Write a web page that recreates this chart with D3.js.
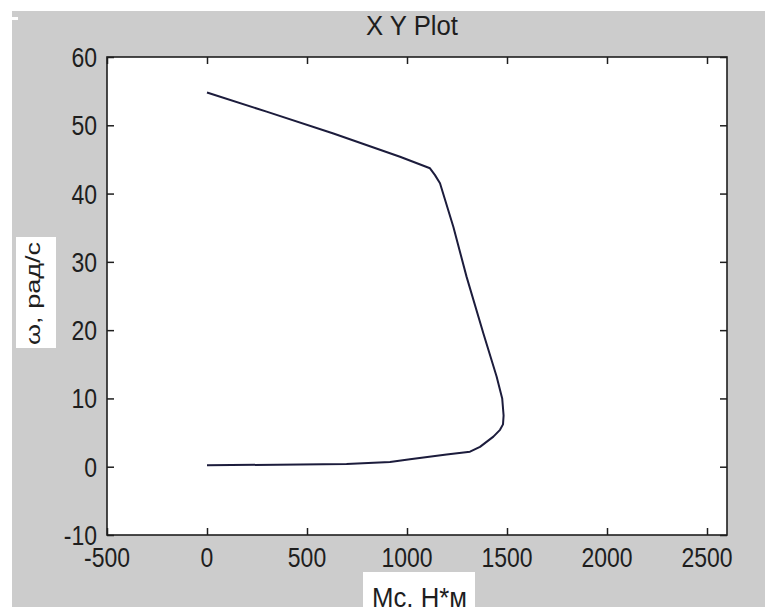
<!DOCTYPE html>
<html>
<head>
<meta charset="utf-8">
<script src="https://cdn.jsdelivr.net/npm/d3@7"></script>
<style>
  html, body { margin: 0; padding: 0; background: #ffffff; }
  svg { display: block; }
  text { font-family: "Liberation Sans", Arial, sans-serif; fill: #1e1e1e; }
</style>
</head>
<body>
<svg id="chart" width="765" height="607"></svg>
<script>
// ---- data ----
const titleText = "X Y Plot";
const xLabelText = "Mc, H*м";
const yLabelText = "ω, рад/с";
const xTicks = [-500, 0, 500, 1000, 1500, 2000, 2500];
const yTicks = [-10, 0, 10, 20, 30, 40, 50, 60];
const xDomain = [-500, 2600];
const yDomain = [-10, 60];
const curveM = [0, 298, 632, 965, 1115, 1140, 1165, 1232, 1298, 1382, 1448, 1476, 1483, 1480, 1465, 1432, 1365, 1315, 1198, 1015, 915, 698, 0];
const curveW = [54.8, 52.0, 48.8, 45.4, 43.7, 42.7, 41.5, 35.1, 27.8, 19.5, 13.2, 10.0, 7.5, 6.2, 5.4, 4.4, 2.9, 2.2, 1.8, 1.1, 0.7, 0.4, 0.2];

// ---- layout ----
const svg = d3.select("#chart");
const W = 765, H = 607;
const plot = { left: 107, right: 727, top: 57, bottom: 535 };

// figure background (gray) with white strips at top/left
svg.append("rect").attr("x", 0).attr("y", 0).attr("width", W).attr("height", H).attr("fill", "#ffffff");
svg.append("rect").attr("x", 12).attr("y", 11).attr("width", W - 12).attr("height", H - 11).attr("fill", "#cccccc");
svg.append("rect").attr("x", 12).attr("y", 17).attr("width", 6).attr("height", 3).attr("fill", "#ffffff");

const x = d3.scaleLinear().domain(xDomain).range([plot.left, plot.right]);
const y = d3.scaleLinear().domain(yDomain).range([plot.bottom, plot.top]);

// plot area
svg.append("rect")
  .attr("x", plot.left).attr("y", plot.top)
  .attr("width", plot.right - plot.left).attr("height", plot.bottom - plot.top)
  .attr("fill", "#ffffff");

// helper for stretched text
function stretchedText(g, str, px, py, size, sy, anchor, len) {
  const t = g.append("text")
    .attr("transform", `translate(${px},${py}) scale(1,${sy})`)
    .attr("x", 0).attr("y", 0)
    .attr("font-size", size)
    .attr("text-anchor", anchor)
    .text(str);
  if (len) t.attr("textLength", len).attr("lengthAdjust", "spacingAndGlyphs");
  return t;
}

const tickLen = 7;
// axes via d3 axis (ticks inward)
const axisStyle = sel => {
  sel.select(".domain").remove();
  sel.selectAll(".tick line").attr("stroke", "#1e1e1e").attr("stroke-width", 1.5);
  sel.selectAll(".tick text").remove();
};
svg.append("g").attr("transform", `translate(0,${plot.bottom})`)
  .call(d3.axisBottom(x).tickValues(xTicks).tickSize(-tickLen)).call(axisStyle);
svg.append("g").attr("transform", `translate(0,${plot.top})`)
  .call(d3.axisTop(x).tickValues(xTicks).tickSize(-tickLen)).call(axisStyle);
svg.append("g").attr("transform", `translate(${plot.left},0)`)
  .call(d3.axisLeft(y).tickValues(yTicks).tickSize(-tickLen)).call(axisStyle);
svg.append("g").attr("transform", `translate(${plot.right},0)`)
  .call(d3.axisRight(y).tickValues(yTicks).tickSize(-tickLen)).call(axisStyle);

// box
svg.append("rect")
  .attr("x", plot.left).attr("y", plot.top)
  .attr("width", plot.right - plot.left).attr("height", plot.bottom - plot.top)
  .attr("fill", "none").attr("stroke", "#1e1e1e").attr("stroke-width", 1.6);

// tick labels
const labels = svg.append("g");
xTicks.forEach(v => stretchedText(labels, String(v), x(v), 567, 23, 1.2, "middle"));
yTicks.forEach(v => stretchedText(labels, String(v), 97, y(v) + 10, 23, 1.2, "end"));

// title
stretchedText(svg, titleText, 412, 35, 25, 1.12, "middle", 92);

// y label with white box
svg.append("rect").attr("x", 16).attr("y", 237).attr("width", 40).attr("height", 111).attr("fill", "#ffffff");
svg.append("text")
  .attr("transform", `translate(40,293.5) rotate(-90)`)
  .attr("font-size", 20)
  .attr("text-anchor", "middle")
  .attr("textLength", 103).attr("lengthAdjust", "spacingAndGlyphs")
  .text(yLabelText);

// x label with white box (clipped by window bottom)
svg.append("rect").attr("x", 363).attr("y", 572).attr("width", 112).attr("height", 40).attr("fill", "#ffffff");
stretchedText(svg, xLabelText, 372, 607, 23, 1.22, "start", 95);

// curve
const pts = curveM.map((m, i) => [m, curveW[i]]);
const line = d3.line().x(d => x(d[0])).y(d => y(d[1]));
svg.append("path")
  .attr("d", line(pts))
  .attr("fill", "none")
  .attr("stroke", "#1c1c3c")
  .attr("stroke-width", 2)
  .attr("stroke-linejoin", "round");
</script>
</body>
</html>
